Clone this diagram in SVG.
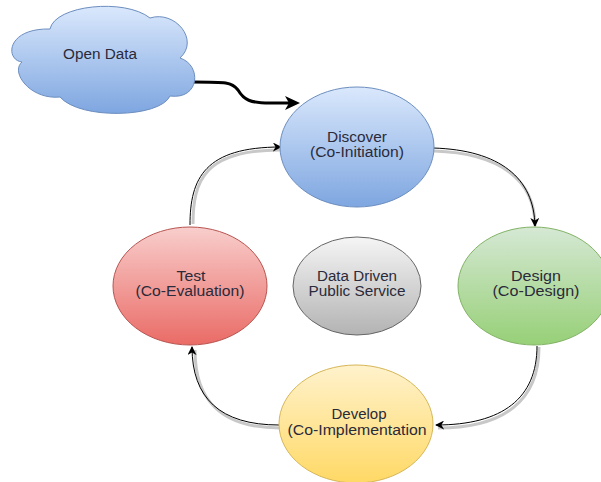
<svg xmlns="http://www.w3.org/2000/svg" width="601" height="482" viewBox="0 0 601 482">
<defs>
<linearGradient id="gBlue" x1="0" y1="0" x2="0" y2="1"><stop offset="0" stop-color="#dae8fc"/><stop offset="1" stop-color="#7ea6e0"/></linearGradient>
<linearGradient id="gRed" x1="0" y1="0" x2="0" y2="1"><stop offset="0" stop-color="#f8cecc"/><stop offset="1" stop-color="#ea6b66"/></linearGradient>
<linearGradient id="gGreen" x1="0" y1="0" x2="0" y2="1"><stop offset="0" stop-color="#d5e8d4"/><stop offset="1" stop-color="#97d077"/></linearGradient>
<linearGradient id="gYellow" x1="0" y1="0" x2="0" y2="1"><stop offset="0" stop-color="#fff2cc"/><stop offset="1" stop-color="#ffd966"/></linearGradient>
<linearGradient id="gGray" x1="0" y1="0" x2="0" y2="1"><stop offset="0" stop-color="#f5f5f5"/><stop offset="1" stop-color="#b3b3b3"/></linearGradient>
<marker id="arrBig" viewBox="0 0 15 14" refX="4" refY="7" markerWidth="15" markerHeight="14" markerUnits="userSpaceOnUse" orient="auto">
<path d="M0,0 L15,7 L0,14 L4,7 Z" fill="#000"/>
</marker>
<marker id="arr" viewBox="0 0 10 10" refX="9" refY="5" markerWidth="9" markerHeight="9" markerUnits="userSpaceOnUse" orient="auto">
<path d="M0,0 L10,5 L0,10 L3,5 Z" fill="#000"/>
</marker>
</defs>
<style>
text{font-family:"Liberation Sans",Arial,sans-serif;font-size:14px;fill:#2a2a3a;text-anchor:middle}
.shadow{fill:none;stroke:#c8c8c8;stroke-width:3}
.edge{fill:none;stroke:#000;stroke-width:1}
</style>
<rect width="601" height="482" fill="#ffffff"/>
<g id="connectors">
<path d="M193,82 C226,82 232,82 238,90 C244,100 250,103 270,103 L289,103" fill="none" stroke="#000" stroke-width="3" marker-end="url(#arrBig)"/>
<path class="shadow" d="M434,151 C500,153 535,180 535,226"/>
<path class="edge" d="M433,148 C500,150 534,178 535,226" marker-end="url(#arr)"/>
<path class="shadow" d="M539,347 C539,400 505,428 438,428"/>
<path class="edge" d="M537,346 C537,398 503,425 436,425" marker-end="url(#arr)"/>
<path class="shadow" d="M280,428 C220,428 195,400 195,350"/>
<path class="edge" d="M279,425 C220,425 192,398 192,347" marker-end="url(#arr)"/>
<path class="shadow" d="M193,224 C193,180 205,150 280,150"/>
<path class="edge" d="M190,225 C190,178 205,147 281,147" marker-end="url(#arr)"/>
</g>
<g id="open-data">
<path d="M22,62 C5,60 6,28 50,29 C55,5 125,-2 150,18 C175,10 200,40 180,58 C202,65 200,100 170,96 C160,118 80,120 60,97 C30,100 10,72 22,62 Z" fill="url(#gBlue)" stroke="#6c8ebf" stroke-width="1"/>
<text x="100" y="59" textLength="74" lengthAdjust="spacingAndGlyphs">Open Data</text>
</g>
<g id="discover">
<ellipse cx="357" cy="147" rx="77" ry="60" fill="url(#gBlue)" stroke="#6c8ebf"/>
<text x="357" y="142" textLength="60" lengthAdjust="spacingAndGlyphs">Discover</text>
<text x="357" y="157" textLength="94" lengthAdjust="spacingAndGlyphs">(Co-Initiation)</text>
</g>
<g id="design">
<ellipse cx="534" cy="286" rx="76" ry="59" fill="url(#gGreen)" stroke="#82b366"/>
<text x="536" y="281" textLength="50" lengthAdjust="spacingAndGlyphs">Design</text>
<text x="536" y="296" textLength="87" lengthAdjust="spacingAndGlyphs">(Co-Design)</text>
</g>
<g id="test">
<ellipse cx="190" cy="286" rx="77" ry="59" fill="url(#gRed)" stroke="#b85450"/>
<text x="191" y="281" textLength="29" lengthAdjust="spacingAndGlyphs">Test</text>
<text x="190" y="296" textLength="109" lengthAdjust="spacingAndGlyphs">(Co-Evaluation)</text>
</g>
<g id="data-driven">
<ellipse cx="357" cy="286" rx="64" ry="49" fill="url(#gGray)" stroke="#666666"/>
<text x="357" y="281" textLength="80" lengthAdjust="spacingAndGlyphs">Data Driven</text>
<text x="357" y="296" textLength="97" lengthAdjust="spacingAndGlyphs">Public Service</text>
</g>
<g id="develop">
<ellipse cx="356" cy="424" rx="77" ry="59" fill="url(#gYellow)" stroke="#d6b656"/>
<text x="359" y="419" textLength="55" lengthAdjust="spacingAndGlyphs">Develop</text>
<text x="357" y="435" textLength="139" lengthAdjust="spacingAndGlyphs">(Co-Implementation</text>
</g>
</svg>
